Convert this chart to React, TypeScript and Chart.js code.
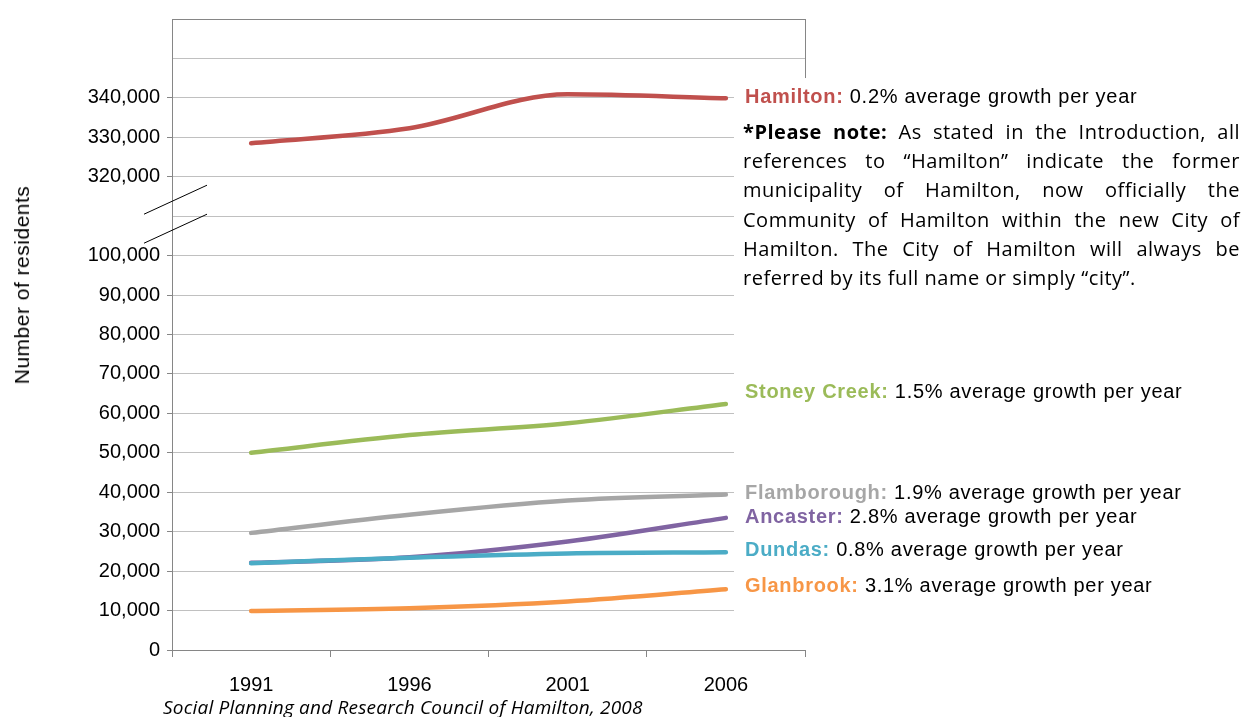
import React, { useEffect, useRef } from "react";
import { Chart, registerables } from "chart.js";
Chart.register(...registerables);

const years = ["1991", "1996", "2001", "2006"];
const hamilton = [328500, 332300, 340900, 339900];
const stoneyCreek = [50000, 54500, 57500, 62400];
const flamborough = [29700, 34300, 37900, 39400];
const ancaster = [22100, 23500, 27500, 33500];
const dundas = [22000, 23400, 24500, 24800];
const glanbrook = [9900, 10600, 12300, 15400];

// Broken axis: values above the break are shifted down by this amount
const BREAK_OFFSET = 200000;
const LOWER_MAX = 100000;
const UPPER_LABELS = [320000, 330000, 340000];

const colors = {
  hamilton: "#C0504D",
  stoney: "#9BBB59",
  flam: "#A6A6A6",
  ancaster: "#8064A2",
  dundas: "#4BACC6",
  glanbrook: "#F79646",
};

const seriesLabels = [
  { name: "Hamilton:", rate: "0.2%", color: colors.hamilton, y: 96 },
  { name: "Stoney Creek:", rate: "1.5%", color: colors.stoney, y: 391 },
  { name: "Flamborough:", rate: "1.9%", color: colors.flam, y: 492 },
  { name: "Ancaster:", rate: "2.8%", color: colors.ancaster, y: 516 },
  { name: "Dundas:", rate: "0.8%", color: colors.dundas, y: 549 },
  { name: "Glanbrook:", rate: "3.1%", color: colors.glanbrook, y: 585 },
];

const noteLines = [
  "As stated in the Introduction, all",
  "references to \u201CHamilton\u201D indicate the former",
  "municipality of Hamilton, now officially the",
  "Community of Hamilton within the new City of",
  "Hamilton. The City of Hamilton will always be",
  "referred by its full name or simply \u201Ccity\u201D.",
];

const isLabeled = (v: number) =>
  v <= LOWER_MAX || UPPER_LABELS.includes(v + BREAK_OFFSET);

const fmt = (v: number) => v.toLocaleString("en-US");

export default function App() {
  const ref = useRef<HTMLCanvasElement>(null);
  useEffect(() => {
    const canvas = ref.current!;
    const overlay = {
      id: "overlay",
      beforeDatasetsDraw(chart: any) {
        const { ctx, chartArea } = chart;
        const ys = chart.scales.y;
        ctx.save();
        ctx.strokeStyle = "#868686";
        ctx.lineWidth = 1;
        ctx.beginPath();
        ctx.moveTo(chartArea.right + 0.5, chartArea.top);
        ctx.lineTo(chartArea.right + 0.5, ys.getPixelForValue(145000));
        ctx.moveTo(chartArea.left, chartArea.top + 0.5);
        ctx.lineTo(chartArea.right + 1, chartArea.top + 0.5);
        ctx.stroke();
        ctx.fillStyle = "#fff";
        const x0 = chartArea.right - 71;
        const y0 = ys.getPixelForValue(145000);
        ctx.fillRect(x0, y0, chartArea.right + 2 - x0, chartArea.bottom - 1 - y0);
        ctx.restore();
      },
      afterDraw(chart: any) {
        const { ctx, chartArea } = chart;
        const ys = chart.scales.y;
        const yb = ys.getPixelForValue(110000);
        const l = chartArea.left;
        ctx.save();
        ctx.strokeStyle = "#000";
        ctx.lineWidth = 1;
        ctx.beginPath();
        ctx.moveTo(l - 28, yb - 2);
        ctx.lineTo(l + 35, yb - 31);
        ctx.moveTo(l - 28, yb + 27);
        ctx.lineTo(l + 35, yb - 2);
        ctx.stroke();
        ctx.restore();
      },
    };
    const ds = (label: string, data: number[], color: string) => ({
      label,
      data,
      borderColor: color,
      backgroundColor: color,
      borderWidth: 4.5,
      pointRadius: 0,
      cubicInterpolationMode: "monotone" as const,
      borderCapStyle: "round" as const,
      borderJoinStyle: "round" as const,
    });
    const chart = new Chart(canvas, {
      type: "line",
      data: {
        labels: years,
        datasets: [
          ds("Hamilton", hamilton.map((v) => v - BREAK_OFFSET), colors.hamilton),
          ds("Stoney Creek", stoneyCreek, colors.stoney),
          ds("Flamborough", flamborough, colors.flam),
          ds("Dundas", dundas, colors.dundas),
          ds("Ancaster", ancaster, colors.ancaster),
          ds("Glanbrook", glanbrook, colors.glanbrook),
        ],
      },
      options: {
        animation: false,
        responsive: false,
        layout: { padding: { left: 0, right: 440, top: 17, bottom: 0 } },
        plugins: { legend: { display: false }, tooltip: { enabled: false } },
        scales: {
          x: {
            offset: true,
            grid: {
              offset: true,
              drawOnChartArea: false,
              tickLength: 7,
              tickColor: "#868686",
            },
            border: { color: "#868686" },
            ticks: {
              color: "#000",
              font: { family: "'Liberation Sans', Arial", size: 20 },
              padding: 16,
              maxRotation: 0,
            },
            afterFit: (s: any) => {
              s.height = 67;
            },
          },
          y: {
            min: 0,
            max: 160000,
            grid: {
              color: "#C0C0C0",
              tickLength: 5,
              tickColor: (c: any) =>
                c.tick && isLabeled(c.tick.value) ? "#868686" : "rgba(0,0,0,0)",
            },
            border: { color: "#868686" },
            ticks: {
              stepSize: 10000,
              color: "#000",
              padding: 7,
              font: { family: "'Liberation Sans', Arial", size: 20 },
              callback: (v: any) => {
                const n = Number(v);
                if (n <= LOWER_MAX) return fmt(n);
                if (UPPER_LABELS.includes(n + BREAK_OFFSET)) return fmt(n + BREAK_OFFSET);
                return "";
              },
            },
            afterFit: (s: any) => {
              s.width = 172;
            },
          },
        },
      },
      plugins: [overlay],
    });
    return () => chart.destroy();
  }, []);

  const labelFont = "'Liberation Sans', Arial, sans-serif";
  const noteFont = "'Open Sans', Lato, sans-serif";
  return (
    <div
      style={{
        position: "fixed",
        left: 0,
        top: 0,
        width: 1245,
        height: 717,
        background: "#fff",
        overflow: "hidden",
      }}
    >
      <canvas ref={ref} width={1245} height={717} style={{ position: "absolute", left: 0, top: 0 }} />
      <div
        style={{
          position: "absolute",
          left: 22,
          top: 285,
          transform: "translate(-50%, -50%) rotate(-90deg)",
          fontFamily: labelFont,
          fontSize: 21,
          letterSpacing: "0.5px",
          whiteSpace: "nowrap",
          color: "#000",
        }}
      >
        Number of residents
      </div>
      {seriesLabels.map((s) => (
        <div
          key={s.name}
          style={{
            position: "absolute",
            left: 745,
            top: s.y - 12,
            height: 24,
            lineHeight: "24px",
            fontFamily: labelFont,
            fontSize: 20,
            letterSpacing: "0.7px",
            whiteSpace: "nowrap",
            color: "#000",
          }}
        >
          <b style={{ color: s.color }}>{s.name}</b> {s.rate} average growth per year
        </div>
      ))}
      <div
        style={{
          position: "absolute",
          left: 743,
          top: 117,
          width: 497,
          fontFamily: noteFont,
          fontSize: 20,
          letterSpacing: "0.5px",
          lineHeight: "29.2px",
          color: "#000",
        }}
      >
        {noteLines.map((line, i) => (
          <div
            key={i}
            style={{
              textAlign: "justify",
              textAlignLast: i < noteLines.length - 1 ? "justify" : "left",
              whiteSpace: "nowrap" as any,
            }}
          >
            {i === 0 ? <b>*Please note: </b> : null}
            {line}
          </div>
        ))}
      </div>
      <div
        style={{
          position: "absolute",
          left: 163,
          top: 696,
          lineHeight: "22px",
          fontFamily: noteFont,
          fontStyle: "italic",
          fontSize: 19,
          letterSpacing: "0.2px",
          whiteSpace: "nowrap",
          color: "#000",
        }}
      >
        Social Planning and Research Council of Hamilton, 2008
      </div>
    </div>
  );
}
